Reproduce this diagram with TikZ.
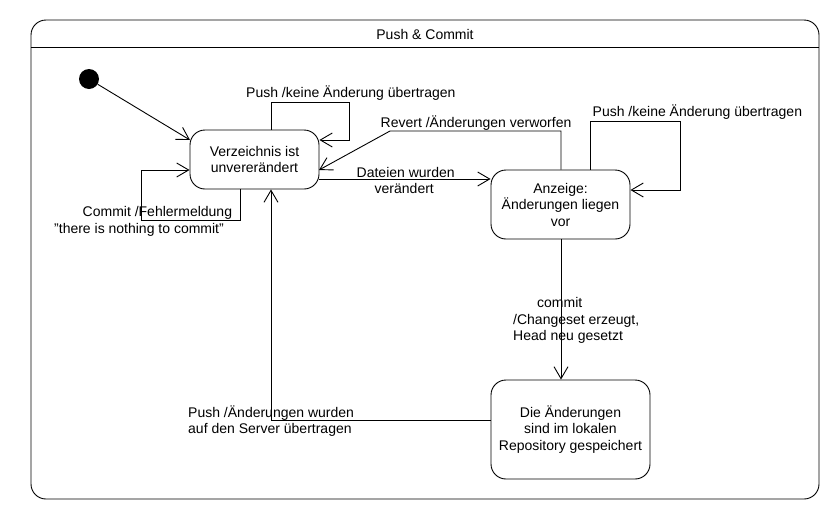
\documentclass[tikz,border=0pt]{standalone}
\usepackage{fontspec}
\setmainfont{Liberation Sans}
\usetikzlibrary{arrows.meta}
\begin{document}
\begin{tikzpicture}[x=1pt,y=-1pt,
  every node/.style={font=\fontsize{14}{16.5}\selectfont},
  statebox/.style={draw,line width=0.9pt,rounded corners=15pt,align=center,inner sep=0pt},
  lbl/.style={anchor=base west,inner sep=0pt},
  conn/.style={line width=0.9pt},
  arr/.style={conn,-{Straight Barb[length=12pt,width=14pt,line width=0.9pt]}}]
\useasboundingbox (0,0) rectangle (840,520);
\fill[white] (0,0) rectangle (840,520);
% frame
\draw[line width=0.9pt,rounded corners=15pt] (31,20) rectangle (819,499);
\draw[line width=0.9pt] (31,47) -- (819,47);
\node (title) at (425,34) {Push \& Commit};
% states
\node[fill,circle,minimum size=20pt,inner sep=0pt] (init) at (89,79) {};
\node[statebox,minimum width=129pt,minimum height=59pt] (s1) at (254.5,159.5) {Verzeichnis ist\\unvererändert};
\node[statebox,minimum width=139pt,minimum height=69pt] (s2) at (560.5,204.5) {Anzeige:\\Änderungen liegen\\vor};
\node[statebox,minimum width=159pt,minimum height=99pt] (s3) at (570.5,429.5) {Die Änderungen\\sind im lokalen\\Repository gespeichert};
% coordinates
\coordinate (c1a) at (271,102);
\coordinate (c1b) at (349,102);
\coordinate (c1c) at (349,140);
\coordinate (c2a) at (240,220);
\coordinate (c2b) at (141,220);
\coordinate (c2c) at (141,170);
\coordinate (c3a) at (561,131);
\coordinate (c3b) at (390,131);
\coordinate (c3e) at (319,170);
\coordinate (c4a) at (590,121);
\coordinate (c4b) at (680,121);
\coordinate (c4c) at (680,190);
\coordinate (c5a) at (271,420);
% connectors
\draw[arr] (init) -- (190,140);
\draw[arr] (271,0 |- s1.north) -- (c1a) -- (c1b) -- (c1c) -- (c1c -| s1.east);
\draw[arr] (240,0 |- s1.south) -- (c2a) -- (c2b) -- (c2c) -- (c2c -| s1.west);
\draw[arr] (s1.east |- 0,179) -- (s2.west |- 0,179);
\draw[arr] (561,0 |- s2.north) -- (c3a) -- (c3b) -- (c3e);
\draw[arr] (590,0 |- s2.north) -- (c4a) -- (c4b) -- (c4c) -- (c4c -| s2.east);
\draw[arr] (561,0 |- s2.south) -- (561,0 |- s3.north);
\draw[arr] (s3.west |- c5a) -- (c5a) -- (271,0 |- s1.south);
% labels
\node[lbl] (l1) at (246,97) {Push /keine Änderung übertragen};
\node[lbl] (l2) at (82.5,216.5) {Commit /Fehlermeldung};
\node[lbl] (l2b) at (54,233.5) {\char"22 there is nothing to commit\char"22};
\node[lbl] (l3) at (380.5,127) {Revert /Änderungen verworfen};
\node[lbl] (l4) at (592.5,116.5) {Push /keine Änderung übertragen};
\node[lbl] (l5) at (356.5,177) {Dateien wurden};
\node[lbl] (l5b) at (374.5,193) {verändert};
\node[lbl] (l6) at (537,307) {commit};
\node[lbl] (l6b) at (513,324) {/Changeset erzeugt,};
\node[lbl] (l6c) at (513,340) {Head neu gesetzt};
\node[lbl] (l7) at (188,417) {Push /Änderungen wurden};
\node[lbl] (l7b) at (188,433) {auf den Server übertragen};
\end{tikzpicture}
\end{document}
